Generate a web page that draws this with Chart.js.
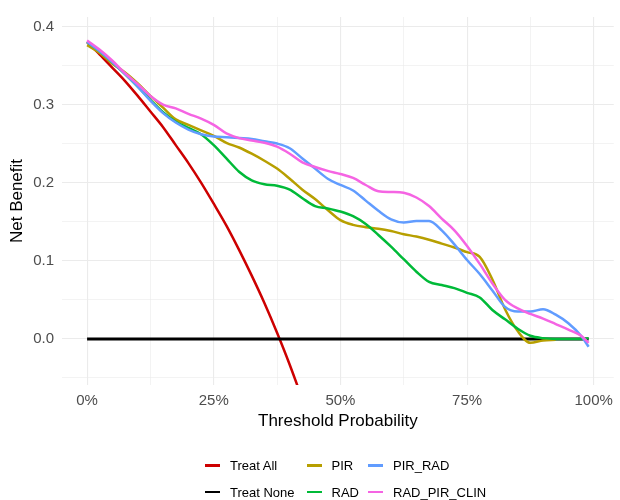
<!DOCTYPE html>
<html>
<head>
<meta charset="utf-8">
<script src="https://cdn.jsdelivr.net/npm/chart.js@4.4.1/dist/chart.umd.min.js"></script>
<style>
    body { margin: 0; background: #fff; }
    #wrap { position: relative; width: 620px; height: 500px; }
    #legend {
        position: absolute; left: 205px; top: 452px;
        display: grid; grid-template-columns: 101.5px 61.5px auto;
        grid-template-rows: 26.7px 26.7px; grid-auto-flow: column;
        font: 13px "Liberation Sans", Arial, sans-serif; color: #000;
    }
    .item { display: flex; align-items: center; white-space: nowrap; }
    .key { width: 15px; height: 2.5px; margin-right: 10px; }
</style>
</head>
<body>
<div id="wrap">
    <canvas id="dca" width="620" height="500"></canvas>
    <div id="legend"></div>
</div>
<script>
const thresholds = [0, 0.025, 0.05, 0.075, 0.1, 0.125, 0.15, 0.175, 0.2, 0.225, 0.25, 0.275, 0.3, 0.325,
    0.35, 0.375, 0.4, 0.425, 0.45, 0.475, 0.5, 0.525, 0.55, 0.575, 0.6, 0.625, 0.65, 0.675, 0.7, 0.725,
    0.75, 0.775, 0.8, 0.825, 0.85, 0.875, 0.9, 0.925, 0.95, 0.975, 0.99];

const treatAll = [0.380, 0.364, 0.347, 0.330, 0.311, 0.291, 0.271, 0.248, 0.225, 0.200, 0.173, 0.145,
    0.114, 0.081, 0.046, 0.008, -0.033, -0.078, -0.127];
const treatNone = [0, 0, 0, 0, 0, 0, 0, 0, 0, 0, 0, 0, 0, 0, 0, 0, 0, 0, 0, 0, 0,
    0, 0, 0, 0, 0, 0, 0, 0, 0, 0, 0, 0, 0, 0, 0, 0, 0, 0, 0, 0];
const pir = [0.376, 0.366, 0.352, 0.341, 0.327, 0.311, 0.296, 0.281, 0.274, 0.267, 0.260, 0.251, 0.245,
    0.237, 0.228, 0.218, 0.205, 0.191, 0.179, 0.165, 0.152, 0.146, 0.143, 0.141, 0.138, 0.134, 0.131,
    0.127, 0.122, 0.117, 0.111, 0.105, 0.076, 0.038, 0.010, -0.005, -0.002, -0.001];
const rad = [0.380, 0.368, 0.354, 0.339, 0.323, 0.306, 0.290, 0.278, 0.270, 0.262, 0.248, 0.231, 0.214,
    0.203, 0.198, 0.196, 0.191, 0.180, 0.170, 0.167, 0.163, 0.157, 0.147, 0.133, 0.118, 0.102, 0.086,
    0.073, 0.069, 0.065, 0.059, 0.053, 0.037, 0.025, 0.013, 0.004, 0.001, 0.000, 0.000, 0.000, 0.001];
const pirRad = [0.380, 0.368, 0.354, 0.339, 0.323, 0.305, 0.289, 0.277, 0.268, 0.262, 0.259, 0.258, 0.257,
    0.256, 0.253, 0.250, 0.244, 0.231, 0.218, 0.205, 0.197, 0.190, 0.177, 0.164, 0.153, 0.149, 0.151,
    0.151, 0.139, 0.121, 0.101, 0.083, 0.062, 0.041, 0.035, 0.035, 0.038, 0.031, 0.020, 0.004, -0.010];
const radPirClin = [0.382, 0.370, 0.356, 0.340, 0.326, 0.311, 0.300, 0.295, 0.288, 0.282, 0.274, 0.263,
    0.257, 0.254, 0.251, 0.246, 0.237, 0.226, 0.220, 0.215, 0.211, 0.206, 0.197, 0.189, 0.188, 0.187,
    0.181, 0.170, 0.154, 0.139, 0.119, 0.096, 0.071, 0.050, 0.039, 0.032, 0.026, 0.019, 0.012, 0.004, -0.005];

const seriesNames = ['Treat All', 'Treat None', 'PIR', 'RAD', 'PIR_RAD', 'RAD_PIR_CLIN'];
const seriesValues = [treatAll, treatNone, pir, rad, pirRad, radPirClin];
const seriesColors = ['#CD0000', '#000000', '#B79F00', '#00BA38', '#619CFF', '#F564E3'];

const xGrid = [0, 0.125, 0.25, 0.375, 0.5, 0.625, 0.75, 0.875, 1];
const xTickLabels = ['0%', '', '25%', '', '50%', '', '75%', '', '100%'];
const yGrid = [-0.05, 0, 0.05, 0.1, 0.15, 0.2, 0.25, 0.3, 0.35, 0.4];
const yTickLabels = ['', '0.0', '', '0.1', '', '0.2', '', '0.3', '', '0.4'];

const fontFamily = '"Liberation Sans", Arial, sans-serif';

let datasets = seriesNames.map((name, i) => ({
    label: name,
    data: seriesValues[i].map((v, j) => ({x: thresholds[j], y: v})),
    borderColor: seriesColors[i],
    backgroundColor: seriesColors[i],
    borderWidth: i === 1 ? 3 : 2.5,
    pointRadius: 0,
    cubicInterpolationMode: 'monotone',
    clip: 0,
    order: seriesNames.length - i
}));

new Chart(document.getElementById('dca'), {
    type: 'line',
    data: {datasets: datasets},
    options: {
        responsive: false,
        animation: false,
        layout: {padding: {top: 8, right: 3, bottom: 67, left: 0}},
        plugins: {legend: {display: false}, tooltip: {enabled: false}},
        scales: {
            x: {
                type: 'linear',
                min: -0.0495,
                max: 1.0395,
                afterBuildTicks: s => { s.ticks = xGrid.map(v => ({value: v})); },
                afterFit: s => { s.height = 48; },
                ticks: {
                    autoSkip: false,
                    maxRotation: 0,
                    padding: 7,
                    color: '#4d4d4d',
                    font: {family: fontFamily, size: 15},
                    callback: (v, i) => xTickLabels[i]
                },
                grid: {
                    color: '#ebebeb',
                    lineWidth: ctx => xTickLabels[ctx.index] ? 1.1 : 0.6,
                    drawTicks: false
                },
                border: {display: false},
                title: {
                    display: true,
                    text: 'Threshold Probability',
                    color: '#000',
                    font: {family: fontFamily, size: 17},
                    padding: {top: 1, bottom: 1}
                }
            },
            y: {
                min: -0.059,
                max: 0.412,
                afterBuildTicks: s => { s.ticks = yGrid.map(v => ({value: v})); },
                afterFit: s => { s.width = 62; },
                ticks: {
                    padding: 8,
                    color: '#4d4d4d',
                    font: {family: fontFamily, size: 15},
                    callback: (v, i) => yTickLabels[i]
                },
                grid: {
                    color: '#ebebeb',
                    lineWidth: ctx => yTickLabels[ctx.index] ? 1.1 : 0.6,
                    drawTicks: false
                },
                border: {display: false},
                title: {
                    display: true,
                    text: 'Net Benefit',
                    color: '#000',
                    font: {family: fontFamily, size: 17},
                    padding: {top: 7, bottom: 0}
                }
            }
        }
    }
});

// legend laid out column-wise like the ggplot one
let legend = document.getElementById('legend');
seriesNames.forEach((name, i) => {
    let item = document.createElement('div');
    item.className = 'item';
    item.innerHTML = '<span class="key" style="background:' + seriesColors[i] + '"></span><span>' + name + '</span>';
    legend.appendChild(item);
});
</script>
</body>
</html>
